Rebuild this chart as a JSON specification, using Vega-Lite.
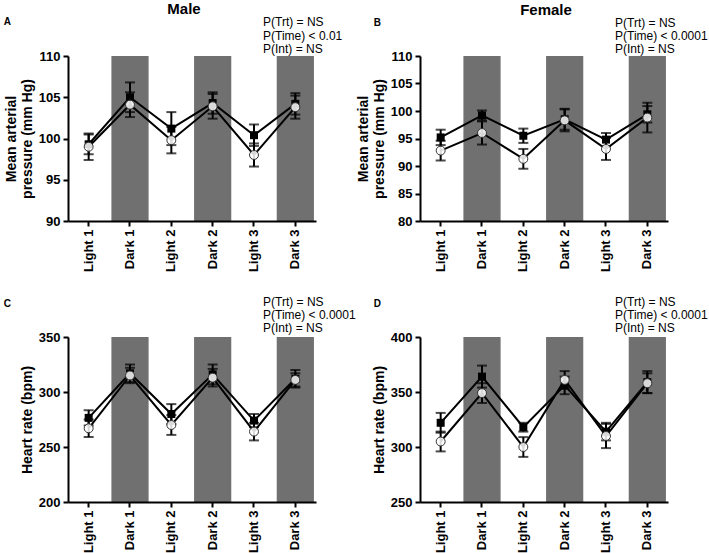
{
  "$schema": "https://vega.github.io/schema/vega-lite/v6.json",
  "background": "white",
  "padding": {"left": 3, "top": 2, "right": 5, "bottom": 5},
  "datasets": {
    "d": [
      {"panel": "A", "period": "Light 1", "group": "filled", "mean": 99.3, "sem": 1.2},
      {"panel": "A", "period": "Light 1", "group": "open", "mean": 99.0, "sem": 1.6},
      {"panel": "A", "period": "Dark 1", "group": "filled", "mean": 105.0, "sem": 1.8},
      {"panel": "A", "period": "Dark 1", "group": "open", "mean": 104.1, "sem": 1.5},
      {"panel": "A", "period": "Light 2", "group": "filled", "mean": 101.2, "sem": 2.0},
      {"panel": "A", "period": "Light 2", "group": "open", "mean": 99.8, "sem": 1.6},
      {"panel": "A", "period": "Dark 2", "group": "filled", "mean": 104.3, "sem": 1.3},
      {"panel": "A", "period": "Dark 2", "group": "open", "mean": 103.9, "sem": 1.5},
      {"panel": "A", "period": "Light 3", "group": "filled", "mean": 100.4, "sem": 1.3},
      {"panel": "A", "period": "Light 3", "group": "open", "mean": 98.0, "sem": 1.4},
      {"panel": "A", "period": "Dark 3", "group": "filled", "mean": 104.2, "sem": 1.3},
      {"panel": "A", "period": "Dark 3", "group": "open", "mean": 103.8, "sem": 1.4},
      {"panel": "B", "period": "Light 1", "group": "filled", "mean": 95.2, "sem": 1.4},
      {"panel": "B", "period": "Light 1", "group": "open", "mean": 92.8, "sem": 1.8},
      {"panel": "B", "period": "Dark 1", "group": "filled", "mean": 99.2, "sem": 0.9},
      {"panel": "B", "period": "Dark 1", "group": "open", "mean": 96.0, "sem": 2.1},
      {"panel": "B", "period": "Light 2", "group": "filled", "mean": 95.5, "sem": 1.3},
      {"panel": "B", "period": "Light 2", "group": "open", "mean": 91.3, "sem": 1.8},
      {"panel": "B", "period": "Dark 2", "group": "filled", "mean": 98.5, "sem": 1.9},
      {"panel": "B", "period": "Dark 2", "group": "open", "mean": 98.3, "sem": 2.0},
      {"panel": "B", "period": "Light 3", "group": "filled", "mean": 94.8, "sem": 1.2},
      {"panel": "B", "period": "Light 3", "group": "open", "mean": 93.1, "sem": 2.0},
      {"panel": "B", "period": "Dark 3", "group": "filled", "mean": 99.4, "sem": 1.5},
      {"panel": "B", "period": "Dark 3", "group": "open", "mean": 98.8, "sem": 2.7},
      {"panel": "C", "period": "Light 1", "group": "filled", "mean": 276.5, "sem": 7},
      {"panel": "C", "period": "Light 1", "group": "open", "mean": 267, "sem": 8},
      {"panel": "C", "period": "Dark 1", "group": "filled", "mean": 317, "sem": 8},
      {"panel": "C", "period": "Dark 1", "group": "open", "mean": 315, "sem": 7},
      {"panel": "C", "period": "Light 2", "group": "filled", "mean": 280, "sem": 9},
      {"panel": "C", "period": "Light 2", "group": "open", "mean": 270, "sem": 9},
      {"panel": "C", "period": "Dark 2", "group": "filled", "mean": 316, "sem": 9},
      {"panel": "C", "period": "Dark 2", "group": "open", "mean": 313, "sem": 8},
      {"panel": "C", "period": "Light 3", "group": "filled", "mean": 274, "sem": 6},
      {"panel": "C", "period": "Light 3", "group": "open", "mean": 264, "sem": 8},
      {"panel": "C", "period": "Dark 3", "group": "filled", "mean": 312, "sem": 8},
      {"panel": "C", "period": "Dark 3", "group": "open", "mean": 311, "sem": 6},
      {"panel": "D", "period": "Light 1", "group": "filled", "mean": 322, "sem": 9},
      {"panel": "D", "period": "Light 1", "group": "open", "mean": 305, "sem": 9},
      {"panel": "D", "period": "Dark 1", "group": "filled", "mean": 364, "sem": 10},
      {"panel": "D", "period": "Dark 1", "group": "open", "mean": 349, "sem": 9},
      {"panel": "D", "period": "Light 2", "group": "filled", "mean": 318, "sem": 4},
      {"panel": "D", "period": "Light 2", "group": "open", "mean": 300, "sem": 9},
      {"panel": "D", "period": "Dark 2", "group": "filled", "mean": 356, "sem": 8},
      {"panel": "D", "period": "Dark 2", "group": "open", "mean": 361, "sem": 8},
      {"panel": "D", "period": "Light 3", "group": "filled", "mean": 314, "sem": 8},
      {"panel": "D", "period": "Light 3", "group": "open", "mean": 310, "sem": 11},
      {"panel": "D", "period": "Dark 3", "group": "filled", "mean": 359, "sem": 10},
      {"panel": "D", "period": "Dark 3", "group": "open", "mean": 358, "sem": 9}
    ]
  },
  "columns": 2,
  "bounds": "flush",
  "spacing": {"row": 116, "column": 104},
  "concat": [
    {
      "width": 248, "height": 165,
      "title": {"text": "Male", "fontSize": 15, "fontWeight": "bold", "anchor": "middle", "frame": "group", "offset": -1, "dx": -8},
      "layer": [
        {"data": {"name": "d"}, "transform": [{"filter": "datum.panel === 'A' && datum.group === 'open' && indexof(datum.period, 'Dark') === 0"}],
         "mark": {"type": "rect", "color": "#707070"},
         "encoding": {"x": {"field": "period", "type": "nominal", "scale": {"type": "band", "domain": ["Light 1", "Dark 1", "Light 2", "Dark 2", "Light 3", "Dark 3"], "paddingInner": 0.1, "paddingOuter": 0.05}, "axis": {"title": null}}}},
        {"data": {"name": "d"}, "transform": [{"filter": "datum.panel === 'A'"}],
         "mark": {"type": "line", "color": "black", "strokeWidth": 2},
         "encoding": {
           "x": {"field": "period", "type": "nominal", "scale": {"type": "band", "domain": ["Light 1", "Dark 1", "Light 2", "Dark 2", "Light 3", "Dark 3"], "paddingInner": 0.1, "paddingOuter": 0.05}, "axis": {"title": null}},
           "y": {"field": "mean", "type": "quantitative", "scale": {"domain": [90, 110], "nice": false, "zero": false}, "axis": {"title": ["Mean arterial", "pressure (mm Hg)"], "values": [90, 95, 100, 105, 110]}},
           "detail": {"field": "group"}}},
        {"data": {"name": "d"}, "transform": [{"filter": "datum.panel === 'A'"}],
         "mark": {"type": "errorbar", "color": "black", "thickness": 2, "ticks": {"size": 10, "thickness": 2, "color": "black"}},
         "encoding": {
           "x": {"field": "period", "type": "nominal", "scale": {"type": "band", "domain": ["Light 1", "Dark 1", "Light 2", "Dark 2", "Light 3", "Dark 3"], "paddingInner": 0.1, "paddingOuter": 0.05}, "axis": {"title": null}},
           "y": {"field": "mean", "type": "quantitative", "scale": {"domain": [90, 110], "nice": false, "zero": false}, "axis": {"title": ["Mean arterial", "pressure (mm Hg)"], "values": [90, 95, 100, 105, 110]}},
           "yError": {"field": "sem"}}},
        {"data": {"name": "d"}, "transform": [{"filter": "datum.panel === 'A' && datum.group === 'filled'"}],
         "mark": {"type": "point", "shape": "square", "filled": true, "color": "black", "size": 64, "opacity": 1},
         "encoding": {
           "x": {"field": "period", "type": "nominal", "scale": {"type": "band", "domain": ["Light 1", "Dark 1", "Light 2", "Dark 2", "Light 3", "Dark 3"], "paddingInner": 0.1, "paddingOuter": 0.05}, "axis": {"title": null}},
           "y": {"field": "mean", "type": "quantitative", "scale": {"domain": [90, 110], "nice": false, "zero": false}, "axis": {"title": ["Mean arterial", "pressure (mm Hg)"], "values": [90, 95, 100, 105, 110]}}}},
        {"data": {"name": "d"}, "transform": [{"filter": "datum.panel === 'A' && datum.group === 'open'"}],
         "mark": {"type": "point", "shape": "circle", "filled": false, "fill": "white", "fillOpacity": 0.85, "stroke": "#333333", "strokeWidth": 1, "size": 80, "opacity": 1},
         "encoding": {
           "x": {"field": "period", "type": "nominal", "scale": {"type": "band", "domain": ["Light 1", "Dark 1", "Light 2", "Dark 2", "Light 3", "Dark 3"], "paddingInner": 0.1, "paddingOuter": 0.05}, "axis": {"title": null}},
           "y": {"field": "mean", "type": "quantitative", "scale": {"domain": [90, 110], "nice": false, "zero": false}, "axis": {"title": ["Mean arterial", "pressure (mm Hg)"], "values": [90, 95, 100, 105, 110]}}}},
        {"data": {"values": [{"label": "A"}]},
         "mark": {"type": "text", "align": "left", "baseline": "alphabetic", "fontSize": 10, "fontWeight": "bold", "dx": -85},
         "encoding": {
           "x": {"datum": "Light 1", "type": "nominal", "scale": {"type": "band", "domain": ["Light 1", "Dark 1", "Light 2", "Dark 2", "Light 3", "Dark 3"], "paddingInner": 0.1, "paddingOuter": 0.05}, "axis": {"title": null}},
           "y": {"datum": 113.7, "type": "quantitative", "scale": {"domain": [90, 110], "nice": false, "zero": false}, "axis": {"title": ["Mean arterial", "pressure (mm Hg)"], "values": [90, 95, 100, 105, 110]}},
           "text": {"field": "label"}}},
        {"data": {"values": [{"label": "stats"}]},
         "mark": {"type": "text", "align": "left", "baseline": "alphabetic", "fontSize": 12, "lineHeight": 13.2, "dx": 9, "text": ["P(Trt) = NS", "P(Time) < 0.01", "P(Int) = NS"]},
         "encoding": {
           "x": {"datum": "Light 3", "type": "nominal", "scale": {"type": "band", "domain": ["Light 1", "Dark 1", "Light 2", "Dark 2", "Light 3", "Dark 3"], "paddingInner": 0.1, "paddingOuter": 0.05}, "axis": {"title": null}},
           "y": {"datum": 113.58, "type": "quantitative", "scale": {"domain": [90, 110], "nice": false, "zero": false}, "axis": {"title": ["Mean arterial", "pressure (mm Hg)"], "values": [90, 95, 100, 105, 110]}}}}
      ]
    },
    {
      "width": 248, "height": 165,
      "title": {"text": "Female", "fontSize": 15, "fontWeight": "bold", "anchor": "middle", "frame": "group", "offset": -1, "dx": 2},
      "layer": [
        {"data": {"name": "d"}, "transform": [{"filter": "datum.panel === 'B' && datum.group === 'open' && indexof(datum.period, 'Dark') === 0"}],
         "mark": {"type": "rect", "color": "#707070"},
         "encoding": {"x": {"field": "period", "type": "nominal", "scale": {"type": "band", "domain": ["Light 1", "Dark 1", "Light 2", "Dark 2", "Light 3", "Dark 3"], "paddingInner": 0.1, "paddingOuter": 0.05}, "axis": {"title": null}}}},
        {"data": {"name": "d"}, "transform": [{"filter": "datum.panel === 'B'"}],
         "mark": {"type": "line", "color": "black", "strokeWidth": 2},
         "encoding": {
           "x": {"field": "period", "type": "nominal", "scale": {"type": "band", "domain": ["Light 1", "Dark 1", "Light 2", "Dark 2", "Light 3", "Dark 3"], "paddingInner": 0.1, "paddingOuter": 0.05}, "axis": {"title": null}},
           "y": {"field": "mean", "type": "quantitative", "scale": {"domain": [80, 110], "nice": false, "zero": false}, "axis": {"title": ["Mean arterial", "pressure (mm Hg)"], "values": [80, 85, 90, 95, 100, 105, 110]}},
           "detail": {"field": "group"}}},
        {"data": {"name": "d"}, "transform": [{"filter": "datum.panel === 'B'"}],
         "mark": {"type": "errorbar", "color": "black", "thickness": 2, "ticks": {"size": 10, "thickness": 2, "color": "black"}},
         "encoding": {
           "x": {"field": "period", "type": "nominal", "scale": {"type": "band", "domain": ["Light 1", "Dark 1", "Light 2", "Dark 2", "Light 3", "Dark 3"], "paddingInner": 0.1, "paddingOuter": 0.05}, "axis": {"title": null}},
           "y": {"field": "mean", "type": "quantitative", "scale": {"domain": [80, 110], "nice": false, "zero": false}, "axis": {"title": ["Mean arterial", "pressure (mm Hg)"], "values": [80, 85, 90, 95, 100, 105, 110]}},
           "yError": {"field": "sem"}}},
        {"data": {"name": "d"}, "transform": [{"filter": "datum.panel === 'B' && datum.group === 'filled'"}],
         "mark": {"type": "point", "shape": "square", "filled": true, "color": "black", "size": 64, "opacity": 1},
         "encoding": {
           "x": {"field": "period", "type": "nominal", "scale": {"type": "band", "domain": ["Light 1", "Dark 1", "Light 2", "Dark 2", "Light 3", "Dark 3"], "paddingInner": 0.1, "paddingOuter": 0.05}, "axis": {"title": null}},
           "y": {"field": "mean", "type": "quantitative", "scale": {"domain": [80, 110], "nice": false, "zero": false}, "axis": {"title": ["Mean arterial", "pressure (mm Hg)"], "values": [80, 85, 90, 95, 100, 105, 110]}}}},
        {"data": {"name": "d"}, "transform": [{"filter": "datum.panel === 'B' && datum.group === 'open'"}],
         "mark": {"type": "point", "shape": "circle", "filled": false, "fill": "white", "fillOpacity": 0.85, "stroke": "#333333", "strokeWidth": 1, "size": 80, "opacity": 1},
         "encoding": {
           "x": {"field": "period", "type": "nominal", "scale": {"type": "band", "domain": ["Light 1", "Dark 1", "Light 2", "Dark 2", "Light 3", "Dark 3"], "paddingInner": 0.1, "paddingOuter": 0.05}, "axis": {"title": null}},
           "y": {"field": "mean", "type": "quantitative", "scale": {"domain": [80, 110], "nice": false, "zero": false}, "axis": {"title": ["Mean arterial", "pressure (mm Hg)"], "values": [80, 85, 90, 95, 100, 105, 110]}}}},
        {"data": {"values": [{"label": "B"}]},
         "mark": {"type": "text", "align": "left", "baseline": "alphabetic", "fontSize": 10, "fontWeight": "bold", "dx": -67},
         "encoding": {
           "x": {"datum": "Light 1", "type": "nominal", "scale": {"type": "band", "domain": ["Light 1", "Dark 1", "Light 2", "Dark 2", "Light 3", "Dark 3"], "paddingInner": 0.1, "paddingOuter": 0.05}, "axis": {"title": null}},
           "y": {"datum": 115.5, "type": "quantitative", "scale": {"domain": [80, 110], "nice": false, "zero": false}, "axis": {"title": ["Mean arterial", "pressure (mm Hg)"], "values": [80, 85, 90, 95, 100, 105, 110]}},
           "text": {"field": "label"}}},
        {"data": {"values": [{"label": "stats"}]},
         "mark": {"type": "text", "align": "left", "baseline": "alphabetic", "fontSize": 12, "lineHeight": 13.2, "dx": 9, "text": ["P(Trt) = NS", "P(Time) < 0.0001", "P(Int) = NS"]},
         "encoding": {
           "x": {"datum": "Light 3", "type": "nominal", "scale": {"type": "band", "domain": ["Light 1", "Dark 1", "Light 2", "Dark 2", "Light 3", "Dark 3"], "paddingInner": 0.1, "paddingOuter": 0.05}, "axis": {"title": null}},
           "y": {"datum": 115.36, "type": "quantitative", "scale": {"domain": [80, 110], "nice": false, "zero": false}, "axis": {"title": ["Mean arterial", "pressure (mm Hg)"], "values": [80, 85, 90, 95, 100, 105, 110]}}}}
      ]
    },
    {
      "width": 248, "height": 165,
      "layer": [
        {"data": {"name": "d"}, "transform": [{"filter": "datum.panel === 'C' && datum.group === 'open' && indexof(datum.period, 'Dark') === 0"}],
         "mark": {"type": "rect", "color": "#707070"},
         "encoding": {"x": {"field": "period", "type": "nominal", "scale": {"type": "band", "domain": ["Light 1", "Dark 1", "Light 2", "Dark 2", "Light 3", "Dark 3"], "paddingInner": 0.1, "paddingOuter": 0.05}, "axis": {"title": null}}}},
        {"data": {"name": "d"}, "transform": [{"filter": "datum.panel === 'C'"}],
         "mark": {"type": "line", "color": "black", "strokeWidth": 2},
         "encoding": {
           "x": {"field": "period", "type": "nominal", "scale": {"type": "band", "domain": ["Light 1", "Dark 1", "Light 2", "Dark 2", "Light 3", "Dark 3"], "paddingInner": 0.1, "paddingOuter": 0.05}, "axis": {"title": null}},
           "y": {"field": "mean", "type": "quantitative", "scale": {"domain": [200, 350], "nice": false, "zero": false}, "axis": {"title": "Heart rate (bpm)", "values": [200, 250, 300, 350]}},
           "detail": {"field": "group"}}},
        {"data": {"name": "d"}, "transform": [{"filter": "datum.panel === 'C'"}],
         "mark": {"type": "errorbar", "color": "black", "thickness": 2, "ticks": {"size": 10, "thickness": 2, "color": "black"}},
         "encoding": {
           "x": {"field": "period", "type": "nominal", "scale": {"type": "band", "domain": ["Light 1", "Dark 1", "Light 2", "Dark 2", "Light 3", "Dark 3"], "paddingInner": 0.1, "paddingOuter": 0.05}, "axis": {"title": null}},
           "y": {"field": "mean", "type": "quantitative", "scale": {"domain": [200, 350], "nice": false, "zero": false}, "axis": {"title": "Heart rate (bpm)", "values": [200, 250, 300, 350]}},
           "yError": {"field": "sem"}}},
        {"data": {"name": "d"}, "transform": [{"filter": "datum.panel === 'C' && datum.group === 'filled'"}],
         "mark": {"type": "point", "shape": "square", "filled": true, "color": "black", "size": 64, "opacity": 1},
         "encoding": {
           "x": {"field": "period", "type": "nominal", "scale": {"type": "band", "domain": ["Light 1", "Dark 1", "Light 2", "Dark 2", "Light 3", "Dark 3"], "paddingInner": 0.1, "paddingOuter": 0.05}, "axis": {"title": null}},
           "y": {"field": "mean", "type": "quantitative", "scale": {"domain": [200, 350], "nice": false, "zero": false}, "axis": {"title": "Heart rate (bpm)", "values": [200, 250, 300, 350]}}}},
        {"data": {"name": "d"}, "transform": [{"filter": "datum.panel === 'C' && datum.group === 'open'"}],
         "mark": {"type": "point", "shape": "circle", "filled": false, "fill": "white", "fillOpacity": 0.85, "stroke": "#333333", "strokeWidth": 1, "size": 80, "opacity": 1},
         "encoding": {
           "x": {"field": "period", "type": "nominal", "scale": {"type": "band", "domain": ["Light 1", "Dark 1", "Light 2", "Dark 2", "Light 3", "Dark 3"], "paddingInner": 0.1, "paddingOuter": 0.05}, "axis": {"title": null}},
           "y": {"field": "mean", "type": "quantitative", "scale": {"domain": [200, 350], "nice": false, "zero": false}, "axis": {"title": "Heart rate (bpm)", "values": [200, 250, 300, 350]}}}},
        {"data": {"values": [{"label": "C"}]},
         "mark": {"type": "text", "align": "left", "baseline": "alphabetic", "fontSize": 10, "fontWeight": "bold", "dx": -85},
         "encoding": {
           "x": {"datum": "Light 1", "type": "nominal", "scale": {"type": "band", "domain": ["Light 1", "Dark 1", "Light 2", "Dark 2", "Light 3", "Dark 3"], "paddingInner": 0.1, "paddingOuter": 0.05}, "axis": {"title": null}},
           "y": {"datum": 377.3, "type": "quantitative", "scale": {"domain": [200, 350], "nice": false, "zero": false}, "axis": {"title": "Heart rate (bpm)", "values": [200, 250, 300, 350]}},
           "text": {"field": "label"}}},
        {"data": {"values": [{"label": "stats"}]},
         "mark": {"type": "text", "align": "left", "baseline": "alphabetic", "fontSize": 12, "lineHeight": 13.2, "dx": 9, "text": ["P(Trt) = NS", "P(Time) < 0.0001", "P(Int) = NS"]},
         "encoding": {
           "x": {"datum": "Light 3", "type": "nominal", "scale": {"type": "band", "domain": ["Light 1", "Dark 1", "Light 2", "Dark 2", "Light 3", "Dark 3"], "paddingInner": 0.1, "paddingOuter": 0.05}, "axis": {"title": null}},
           "y": {"datum": 378.2, "type": "quantitative", "scale": {"domain": [200, 350], "nice": false, "zero": false}, "axis": {"title": "Heart rate (bpm)", "values": [200, 250, 300, 350]}}}}
      ]
    },
    {
      "width": 248, "height": 165,
      "layer": [
        {"data": {"name": "d"}, "transform": [{"filter": "datum.panel === 'D' && datum.group === 'open' && indexof(datum.period, 'Dark') === 0"}],
         "mark": {"type": "rect", "color": "#707070"},
         "encoding": {"x": {"field": "period", "type": "nominal", "scale": {"type": "band", "domain": ["Light 1", "Dark 1", "Light 2", "Dark 2", "Light 3", "Dark 3"], "paddingInner": 0.1, "paddingOuter": 0.05}, "axis": {"title": null}}}},
        {"data": {"name": "d"}, "transform": [{"filter": "datum.panel === 'D'"}],
         "mark": {"type": "line", "color": "black", "strokeWidth": 2},
         "encoding": {
           "x": {"field": "period", "type": "nominal", "scale": {"type": "band", "domain": ["Light 1", "Dark 1", "Light 2", "Dark 2", "Light 3", "Dark 3"], "paddingInner": 0.1, "paddingOuter": 0.05}, "axis": {"title": null}},
           "y": {"field": "mean", "type": "quantitative", "scale": {"domain": [250, 400], "nice": false, "zero": false}, "axis": {"title": "Heart rate (bpm)", "values": [250, 300, 350, 400]}},
           "detail": {"field": "group"}}},
        {"data": {"name": "d"}, "transform": [{"filter": "datum.panel === 'D'"}],
         "mark": {"type": "errorbar", "color": "black", "thickness": 2, "ticks": {"size": 10, "thickness": 2, "color": "black"}},
         "encoding": {
           "x": {"field": "period", "type": "nominal", "scale": {"type": "band", "domain": ["Light 1", "Dark 1", "Light 2", "Dark 2", "Light 3", "Dark 3"], "paddingInner": 0.1, "paddingOuter": 0.05}, "axis": {"title": null}},
           "y": {"field": "mean", "type": "quantitative", "scale": {"domain": [250, 400], "nice": false, "zero": false}, "axis": {"title": "Heart rate (bpm)", "values": [250, 300, 350, 400]}},
           "yError": {"field": "sem"}}},
        {"data": {"name": "d"}, "transform": [{"filter": "datum.panel === 'D' && datum.group === 'filled'"}],
         "mark": {"type": "point", "shape": "square", "filled": true, "color": "black", "size": 64, "opacity": 1},
         "encoding": {
           "x": {"field": "period", "type": "nominal", "scale": {"type": "band", "domain": ["Light 1", "Dark 1", "Light 2", "Dark 2", "Light 3", "Dark 3"], "paddingInner": 0.1, "paddingOuter": 0.05}, "axis": {"title": null}},
           "y": {"field": "mean", "type": "quantitative", "scale": {"domain": [250, 400], "nice": false, "zero": false}, "axis": {"title": "Heart rate (bpm)", "values": [250, 300, 350, 400]}}}},
        {"data": {"name": "d"}, "transform": [{"filter": "datum.panel === 'D' && datum.group === 'open'"}],
         "mark": {"type": "point", "shape": "circle", "filled": false, "fill": "white", "fillOpacity": 0.85, "stroke": "#333333", "strokeWidth": 1, "size": 80, "opacity": 1},
         "encoding": {
           "x": {"field": "period", "type": "nominal", "scale": {"type": "band", "domain": ["Light 1", "Dark 1", "Light 2", "Dark 2", "Light 3", "Dark 3"], "paddingInner": 0.1, "paddingOuter": 0.05}, "axis": {"title": null}},
           "y": {"field": "mean", "type": "quantitative", "scale": {"domain": [250, 400], "nice": false, "zero": false}, "axis": {"title": "Heart rate (bpm)", "values": [250, 300, 350, 400]}}}},
        {"data": {"values": [{"label": "D"}]},
         "mark": {"type": "text", "align": "left", "baseline": "alphabetic", "fontSize": 10, "fontWeight": "bold", "dx": -67},
         "encoding": {
           "x": {"datum": "Light 1", "type": "nominal", "scale": {"type": "band", "domain": ["Light 1", "Dark 1", "Light 2", "Dark 2", "Light 3", "Dark 3"], "paddingInner": 0.1, "paddingOuter": 0.05}, "axis": {"title": null}},
           "y": {"datum": 427.3, "type": "quantitative", "scale": {"domain": [250, 400], "nice": false, "zero": false}, "axis": {"title": "Heart rate (bpm)", "values": [250, 300, 350, 400]}},
           "text": {"field": "label"}}},
        {"data": {"values": [{"label": "stats"}]},
         "mark": {"type": "text", "align": "left", "baseline": "alphabetic", "fontSize": 12, "lineHeight": 13.2, "dx": 9, "text": ["P(Trt) = NS", "P(Time) < 0.0001", "P(Int) = NS"]},
         "encoding": {
           "x": {"datum": "Light 3", "type": "nominal", "scale": {"type": "band", "domain": ["Light 1", "Dark 1", "Light 2", "Dark 2", "Light 3", "Dark 3"], "paddingInner": 0.1, "paddingOuter": 0.05}, "axis": {"title": null}},
           "y": {"datum": 428.6, "type": "quantitative", "scale": {"domain": [250, 400], "nice": false, "zero": false}, "axis": {"title": "Heart rate (bpm)", "values": [250, 300, 350, 400]}}}}
      ]
    }
  ],
  "config": {
    "view": {"stroke": null},
    "font": "Liberation Sans",
    "axis": {"grid": false, "domainColor": "black", "domainWidth": 2, "tickColor": "black", "tickWidth": 2, "tickSize": 5, "labelColor": "black", "labelFont": "Liberation Sans", "labelFontWeight": "bold", "labelFontSize": 13, "labelPadding": 3, "titleFont": "Liberation Sans", "titleFontWeight": "bold", "titleFontSize": 14, "titleColor": "black"},
    "axisX": {"labelAngle": 270},
    "axisY": {"titlePadding": 4, "titleLineHeight": 16},
    "title": {"font": "Liberation Sans", "color": "black"},
    "text": {"font": "Liberation Sans", "color": "black"}
  }
}
